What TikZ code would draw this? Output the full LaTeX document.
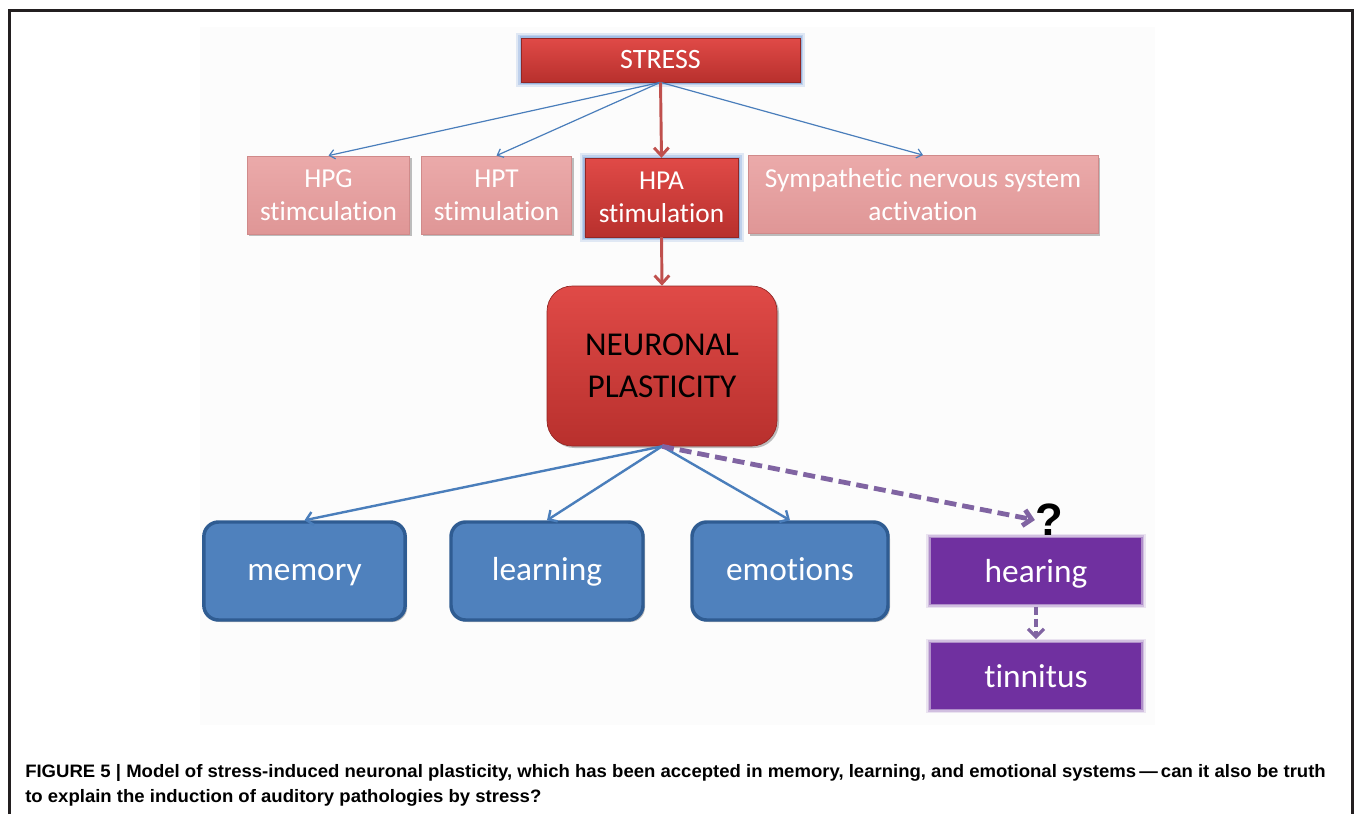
\documentclass[tikz,border=0pt]{standalone}
\usepackage{fontspec}
\setmainfont{Carlito}[Ligatures=NoCommon]
\newfontfamily\capfont{Liberation Sans}
\usetikzlibrary{arrows.meta}
\definecolor{framec}{HTML}{231F20}
\definecolor{redtop}{HTML}{E04A47}
\definecolor{redbot}{HTML}{B8302D}
\definecolor{redline}{HTML}{C0504D}
\definecolor{glowc}{HTML}{8FB0E0}
\definecolor{pinktop}{HTML}{EBAAAA}
\definecolor{pinkbot}{HTML}{DF9696}
\definecolor{pinkedge}{HTML}{D08A8A}
\definecolor{bluefill}{HTML}{4F81BD}
\definecolor{blueedge}{HTML}{2F5C92}
\definecolor{blueline}{HTML}{4A7EBB}
\definecolor{purplefill}{HTML}{7030A0}
\definecolor{dashc}{HTML}{8064A2}
\definecolor{slide}{HTML}{FCFCFC}
\begin{document}
\begin{tikzpicture}[x=0.75pt,y=-0.75pt,
  shadowed/.style={preaction={fill=black,opacity=0.25,transform canvas={shift={(1.5pt,-1.5pt)}}}},
  redbox/.style={rectangle, inner sep=0pt, top color=redtop, bottom color=redbot, draw=redbot!80!black, line width=0.5pt, text=white, align=center, shadowed},
  glowing/.style={preaction={draw=glowc, line width=8pt, opacity=0.25},
                  preaction={draw=glowc, line width=5pt, opacity=0.4},
                  preaction={draw=glowc, line width=2.5pt, opacity=0.6}},
  pinkbox/.style={rectangle, inner sep=0pt, top color=pinktop, bottom color=pinkbot, draw=pinkedge, line width=0.6pt, text=white, align=center, minimum height=58.5pt, font=\fontsize{20.5}{25}\selectfont, shadowed},
  bluebox/.style={rectangle, rounded corners=11pt, inner sep=0pt, fill=bluefill, draw=blueedge, line width=2.6pt, text=white, minimum width=#1, minimum height=73.5pt, text height=19pt, text depth=5.5pt, font=\fontsize{25}{30}\selectfont, shadowed},
  purplebox/.style={rectangle, inner sep=0pt, fill=purplefill,
     preaction={draw=purplefill, line width=7pt, opacity=0.12},
     preaction={draw=purplefill, line width=4.5pt, opacity=0.2},
     preaction={draw=purplefill, line width=2pt, opacity=0.35},
     text=white, minimum width=158pt, minimum height=49pt, text height=20pt, text depth=3.5pt, font=\fontsize{25}{30}\selectfont},
  thinarrow/.style={draw=blueline, line width=0.9pt, -{Straight Barb[length=4pt,width=7pt]}},
  bluearrow/.style={draw=blueline, line width=1.8pt, -{Straight Barb[length=5pt,width=10pt]}},
  redarrow/.style={draw=redline, line width=2.2pt, -{Straight Barb[length=6pt,width=11pt]}},
  purpledash/.style={draw=dashc, line width=#1, dash pattern=on 9pt off 4.5pt, -{Straight Barb[length=6pt,width=12pt]}}
]
\useasboundingbox (0,0) rectangle (1355,814);
% slide background and frame
\fill[slide] (200,27) rectangle (1155,725);
\draw[framec, line width=2.25pt] (9,814) -- (9,10) -- (1352,10) -- (1352,814);

% nodes
\node[redbox, glowing, minimum width=209pt, minimum height=33pt, font=\fontsize{21}{25}\selectfont] (stress) at (660.5,60) {STRESS};
\node[pinkbox, minimum width=122pt] (hpg) at (328.5,195) {HPG\\stimculation};
\node[pinkbox, minimum width=113pt] (hpt) at (496.5,195) {HPT\\stimulation};
\node[redbox, glowing, minimum width=115pt, minimum height=59pt, font=\fontsize{20.5}{25}\selectfont] (hpa) at (661.5,197.5) {HPA\\stimulation};
\node[pinkbox, minimum width=262.5pt] (sym) at (923,194.5) {Sympathetic nervous system\\activation};
\node[redbox, rounded corners=19pt, minimum width=172.5pt, minimum height=120pt, text=black, font=\fontsize{25}{31.5}\selectfont] (np) at (662,366) {NEURONAL\\PLASTICITY};
\node[bluebox=151pt] (mem) at (304.5,571) {memory};
\node[bluebox=144pt] (learn) at (547,571) {learning};
\node[bluebox=147pt] (emo) at (790,571) {emotions};
\node[purplebox] (hear) at (1036,571) {hearing};
\node[purplebox] (tinn) at (1036,676) {tinnitus};
\node[inner sep=0pt, font=\capfont\bfseries\fontsize{34}{40}\selectfont] (q) at (1049,520) {?};

% connectors
\draw[thinarrow] (stress.south) -- (hpg.north);
\draw[thinarrow] (stress.south) -- (hpt.north);
\draw[thinarrow] (stress.south) -- (sym.north);
\draw[redarrow] (stress.south) -- (hpa.north);
\draw[redarrow] (hpa.south) -- (np.north);
\draw[bluearrow] (np.south) -- (mem.north);
\draw[bluearrow] (np.south) -- (learn.north);
\draw[bluearrow] (np.south) -- (emo.north);
\draw[purpledash=3.6pt] (np.south) -- (q.west);
\draw[purpledash=2.4pt, dash pattern=on 6pt off 3pt] ([yshift=-2pt]hear.south) -- ([yshift=3pt]tinn.north);

% caption
\node[anchor=base west, inner sep=0pt, font=\capfont\bfseries\fontsize{13.5}{16}\selectfont] (cap1) at (25,777) {\scalebox{1.03}[1]{FIGURE 5 | Model of stress-induced neuronal plasticity, which has been accepted in memory, learning, and emotional systems\,—\,can it also be truth}};
\node[anchor=base west, inner sep=0pt, font=\capfont\bfseries\fontsize{13.5}{16}\selectfont] (cap2) at (25,802) {\scalebox{1.03}[1]{to explain the induction of auditory pathologies by stress?}};
\end{tikzpicture}
\end{document}
